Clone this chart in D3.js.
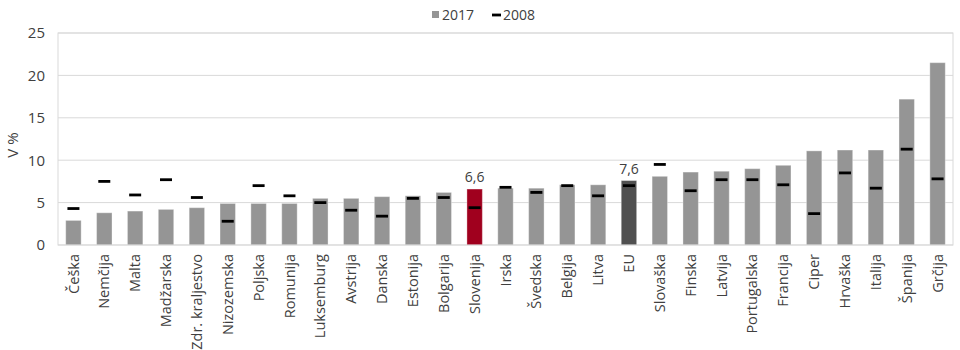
<!DOCTYPE html>
<html><head><meta charset="utf-8">
<script src="https://cdn.jsdelivr.net/npm/d3@7"></script>
<style>body{margin:0;background:#fff}svg{display:block;font-family:"Open Sans",sans-serif}</style>
</head><body><svg id="c" width="960" height="350"></svg>
<script>
const categories = ["Češka","Nemčija","Malta","Madžarska","Zdr. kraljestvo","Nizozemska","Poljska","Romunija","Luksemburg","Avstrija","Danska","Estonija","Bolgarija","Slovenija","Irska","Švedska","Belgija","Litva","EU","Slovaška","Finska","Latvija","Portugalska","Francija","Ciper","Hrvaška","Italija","Španija","Grčija"];
const values2017 = [2.9,3.8,4.0,4.2,4.4,4.9,4.9,4.9,5.5,5.5,5.7,5.8,6.2,6.6,6.7,6.7,7.1,7.1,7.6,8.1,8.6,8.7,9.0,9.4,11.1,11.2,11.2,17.2,21.5];
const values2008 = [4.3,7.5,5.9,7.7,5.6,2.8,7.0,5.8,5.0,4.1,3.4,5.5,5.6,4.4,6.8,6.2,7.0,5.8,7.0,9.5,6.4,7.7,7.7,7.1,3.7,8.5,6.7,11.3,7.8];
const yTicks = [0,5,10,15,20,25];
const labelled = {"Slovenija":"6,6","EU":"7,6"};

const svg = d3.select("#c");
const m = {l:58, r:953, t:33, b:245};
const x = d3.scaleBand().domain(categories).range([m.l, m.r]).paddingInner(0.5).paddingOuter(0.25);
const y = d3.scaleLinear().domain([0,25]).range([m.b, m.t]);

// gridlines
svg.append("g").selectAll("line").data(yTicks.filter(d=>d>0)).join("line")
  .attr("x1",m.l).attr("x2",m.r).attr("y1",d=>y(d)).attr("y2",d=>y(d))
  .attr("stroke","#d9d9d9").attr("stroke-width",1);
// plot border
svg.append("rect").attr("x",m.l).attr("y",m.t).attr("width",m.r-m.l).attr("height",m.b-m.t)
  .attr("fill","none").attr("stroke","#d9d9d9");

// y axis labels
const yAxis = d3.axisLeft(y).tickValues(yTicks).tickSize(0).tickPadding(13);
const ga = svg.append("g").attr("transform",`translate(${m.l},0)`).call(yAxis);
ga.select(".domain").remove();
ga.selectAll("text").attr("font-size",15).attr("fill","#404040").attr("font-family","Open Sans");

svg.append("text").attr("transform",`translate(18,${(m.t+m.b)/2 + 6}) rotate(-90)`)
  .attr("text-anchor","middle").attr("font-size",15).attr("fill","#404040").text("V %");

// bars
const colorFor = c => c==="Slovenija" ? "#a0001e" : (c==="EU" ? "#505050" : "#959595");
svg.append("g").selectAll("rect").data(categories).join("rect")
  .attr("x",c=>x(c)).attr("width",x.bandwidth())
  .attr("y",(c,i)=>y(values2017[i])).attr("height",(c,i)=>y(0)-y(values2017[i]))
  .attr("fill",colorFor).attr("stroke","#ffffff").attr("stroke-opacity",0.35).attr("stroke-width",1);

// 2008 dashes
const dw = 12;
svg.append("g").selectAll("line").data(categories).join("line")
  .attr("x1",c=>x(c)+x.bandwidth()/2-dw/2).attr("x2",c=>x(c)+x.bandwidth()/2+dw/2)
  .attr("y1",(c,i)=>y(values2008[i])).attr("y2",(c,i)=>y(values2008[i]))
  .attr("stroke","#000").attr("stroke-width",2.8);

// data labels
svg.append("g").selectAll("text").data(categories.filter(c=>labelled[c])).join("text")
  .attr("x",c=>x(c)+x.bandwidth()/2).attr("y",c=>y(values2017[categories.indexOf(c)])-7)
  .attr("text-anchor","middle").attr("font-size",14).attr("fill","#404040").text(c=>labelled[c]);

// baseline
svg.append("line").attr("x1",m.l).attr("x2",m.r).attr("y1",m.b).attr("y2",m.b).attr("stroke","#d9d9d9");

// x labels
const gx = svg.append("g").attr("transform",`translate(0,${m.b})`).call(d3.axisBottom(x).tickSize(0).tickPadding(0));
gx.select(".domain").remove();
gx.selectAll("text").attr("font-size",14.5).attr("fill","#404040").attr("font-family","Open Sans")
  .attr("transform","rotate(-90)").attr("text-anchor","end").attr("x",-9).attr("y",0).attr("dy","0.35em");

// legend
const lg = svg.append("g");
lg.append("rect").attr("x",432).attr("y",11).attr("width",7).attr("height",7).attr("fill","#959595");
lg.append("text").attr("x",442).attr("y",20).attr("font-size",14).attr("fill","#404040").text("2017");
lg.append("line").attr("x1",492).attr("x2",501).attr("y1",15).attr("y2",15).attr("stroke","#000").attr("stroke-width",2.8);
lg.append("text").attr("x",503).attr("y",20).attr("font-size",14).attr("fill","#404040").text("2008");
</script></body></html>
